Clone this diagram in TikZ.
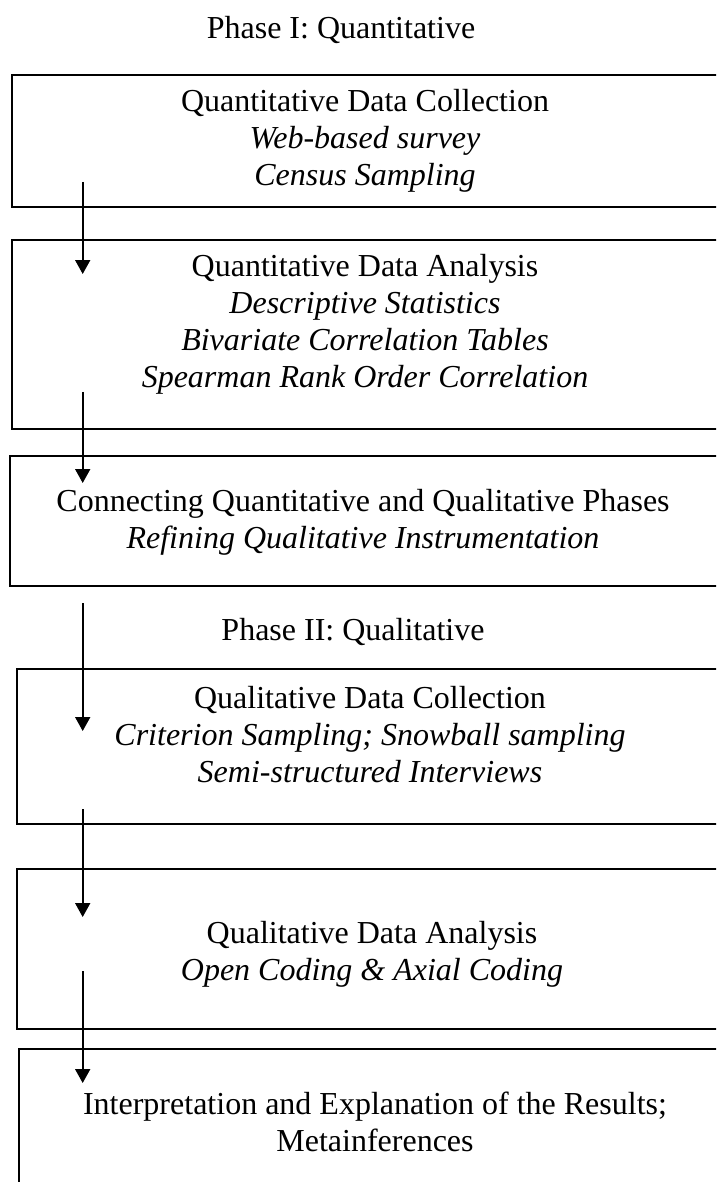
\documentclass[tikz,border=0pt]{standalone}
\usepackage{fontspec}
\setmainfont{Liberation Serif}
\usetikzlibrary{arrows.meta}

\tikzset{
  stagebox/.style={draw, line width=0.75pt, inner sep=0pt, anchor=north west},
  stagetext/.style={align=center, inner sep=0pt, font=\fontsize{12}{13.9}\selectfont},
  phaselabel/.style={inner sep=0pt, font=\fontsize{12}{13.9}\selectfont},
  flowarrow/.style={line width=0.6pt, -{Triangle[length=5.2pt, width=5.6pt]}}
}

\begin{document}
\begin{tikzpicture}[x=0.375pt, y=-0.375pt]
\useasboundingbox (0,0) rectangle (716,1182);
\clip (0,0) rectangle (716,1182);

% boxes (right side runs off the page)
\foreach \name/\l/\t/\b in {qncol/11/74/206, qnana/11/239/428, connect/9/455/585,
                            qlcol/16/668/823, qlana/16/868/1028, interp/18/1048/1200}
    \node[stagebox, minimum width={(722-\l)*0.375pt}, minimum height={(\b-\t)*0.375pt}]
        (\name) at (\l,\t) {};

% phase labels
\node[phaselabel] (phaseone) at (341,30) {Phase I: Quantitative};
\node[phaselabel] (phasetwo) at (353,632) {Phase II: Qualitative};

% box texts
\node[stagetext] (qncoltxt) at (365,141) {Quantitative Data Collection\\ \textit{Web-based survey}\\ \textit{Census Sampling}};
\node[stagetext] (qnanatxt) at (365,324) {Quantitative Data Analysis\\ \textit{Descriptive Statistics}\\ \textit{Bivariate Correlation Tables}\\ \textit{Spearman Rank Order Correlation}};
\node[stagetext] (connecttxt) at (363,522) {Connecting Quantitative and Qualitative Phases\\ \textit{Refining Qualitative Instrumentation}};
\node[stagetext] (qlcoltxt) at (370,735) {Qualitative Data Collection\\ \textit{Criterion Sampling; Snowball sampling}\\ \textit{Semi-structured Interviews}};
\node[stagetext] (qlanatxt) at (372,954) {Qualitative Data Analysis\\ \textit{Open Coding \& Axial Coding}};
\node[stagetext] (interptxt) at (375,1122) {Interpretation and Explanation of the Results;\\ Metainferences};

% arrows down the left side
\foreach \i/\s/\e in {1/182/274, 2/392/483, 3/603/731, 4/809/917, 5/971/1083} {
    \coordinate (s\i) at (82.7,\s);
    \coordinate (e\i) at (82.7,\e);
    \draw[flowarrow] (s\i) -- (e\i);
}
\end{tikzpicture}
\end{document}
